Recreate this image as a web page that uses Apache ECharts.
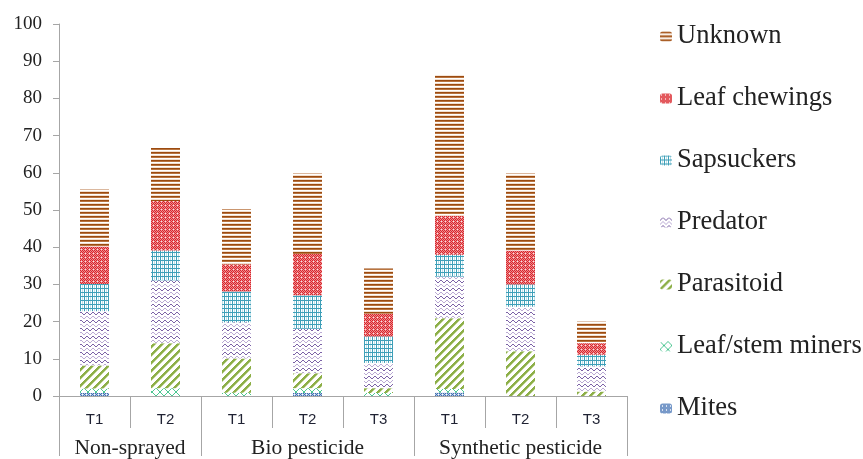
<!DOCTYPE html>
<html>
<head>
<meta charset="utf-8">
<script src="https://cdn.jsdelivr.net/npm/echarts@6/dist/echarts.min.js"></script>
<style>html,body{margin:0;padding:0;background:#fff;}#c{width:863px;height:459px;}</style>
</head>
<body>
<div id="c"></div>
<script>
// ---- data ----
const categories = ['T1','T2','T1','T2','T3','T1','T2','T3'];
const groups = ['Non-sprayed','Bio pesticide','Synthetic pesticide'];
const groupCenters = [1, 3.5, 6.5];
const groupBounds = [0, 2, 5, 8];
const mites      = [0.8, 0,    0,    0.8,  0,    0.9,  0,    0];
const miners     = [1.2, 2.1,  0.9,  1.3,  0.8,  1.0,  0,    0];
const parasitoid = [6.2, 12.1, 9.2,  4.0,  1.3,  19.0, 12.0, 1.2];
const predator   = [14.6,16.9, 9.7,  12.0, 6.8,  11.2, 12.0, 6.8];
const sapsuckers = [7.3, 8.0,  8.3,  9.0,  7.1,  5.9,  6.0,  3.1];
const chewings   = [10.1,13.3, 7.3,  11.1, 6.1,  10.4, 9.1,  3.1];
const unknown    = [15.3,14.3, 14.8, 21.6, 12.2, 37.8, 20.7, 5.8];
const yTicks = [0,10,20,30,40,50,60,70,80,90,100];

// ---- pattern tiles ----
function tile(w, h, fn) {
  const c = document.createElement('canvas');
  c.width = w; c.height = h;
  const ctx = c.getContext('2d');
  ctx.fillStyle = '#ffffff'; ctx.fillRect(0,0,w,h);
  fn(ctx, w, h);
  return {image: c, repeat: 'repeat'};
}
function px(ctx, x, y, col) { ctx.fillStyle = col; ctx.fillRect(x, y, 1, 1); }

const patUnknown = tile(4, 4, (ctx) => {
  ctx.fillStyle = '#9B4B11'; ctx.fillRect(0,0,4,1);
  ctx.fillStyle = '#B9743F'; ctx.fillRect(0,1,4,1);
  ctx.fillStyle = '#F2DFCF'; ctx.fillRect(0,3,4,1);
});
const patChew = tile(4, 4, (ctx) => {
  for (let y=0;y<4;y++) for (let x=0;x<4;x++) {
    px(ctx, x, y, ((x+y)%2===0) ? '#D8262C' : '#EE8C8F');
  }
  px(ctx, 1, 1, '#FBE0E0');
});
const patSap = tile(4, 4, (ctx) => {
  ctx.fillStyle = '#3E9FB8'; ctx.fillRect(0,0,4,1); ctx.fillRect(0,0,1,4);
  ctx.fillStyle = '#BFE1EA'; ctx.fillRect(2,1,1,3);
});
const patPred = tile(6, 8, (ctx) => {
  const ys = [2,1,0,0,1,2];
  for (let x=0;x<6;x++) { px(ctx, x, ys[x], '#7B62A6'); px(ctx, x, ys[x]+4, '#BAAAD3'); }
});
const patPara = tile(8, 8, (ctx) => {
  for (let y=0;y<8;y++) for (let x=0;x<8;x++) {
    const m = (x+y)%8;
    if (m<3) px(ctx, x, y, '#8DAF48');
    else if (m===3) px(ctx, x, y, '#C9DBA4');
  }
});
const patMin = tile(8, 8, (ctx) => {
  for (let i=0;i<8;i++) { px(ctx, i, i, '#4CC691'); px(ctx, i, 7-i, '#4CC691'); }
});
const patMite = tile(4, 4, (ctx) => {
  for (let y=0;y<4;y++) for (let x=0;x<4;x++) {
    px(ctx, x, y, ((x+y)%2===0) ? '#3F6FB0' : '#AFC4E2');
  }
  px(ctx, 2, 2, '#ffffff');
});

const serif = '"Liberation Serif", "Times New Roman", serif';

function s(name, data, pat) {
  return {
    name, type: 'bar', stack: 'a', data, barWidth: 29,
    itemStyle: {color: pat},
    emphasis: {disabled: true}
  };
}

const chart = echarts.init(document.getElementById('c'), null, {renderer: 'canvas'});
chart.setOption({
  animation: false,
  backgroundColor: '#ffffff',
  grid: {left: 59, right: 236, top: 24, bottom: 59, containLabel: false},
  legend: {
    orient: 'vertical', left: 655, top: 18,
    itemWidth: 12, itemHeight: 10, itemGap: 35,
    textStyle: {fontFamily: serif, fontSize: 26.5, color: '#222', lineHeight: 27},
    data: ['Unknown','Leaf chewings','Sapsuckers','Predator','Parasitoid','Leaf/stem miners','Mites'],
    selectedMode: false
  },
  xAxis: [
    {
      type: 'category', data: categories, position: 'bottom',
      axisLine: {lineStyle: {color: '#A6A6A6', width: 1}},
      axisTick: {show: true, interval: 0, length: 32, lineStyle: {color: '#A6A6A6'}},
      axisLabel: {interval: 0, margin: 16, fontFamily: '"Liberation Sans", Arial, sans-serif', fontSize: 15, color: '#1f2233'}
    },
    {
      type: 'value', min: 0, max: 8, position: 'bottom', offset: 0,
      axisLine: {show: false},
      splitLine: {show: false},
      axisTick: {show: true, customValues: groupBounds, length: 60, lineStyle: {color: '#A6A6A6'}},
      axisLabel: {
        customValues: groupCenters, margin: 41,
        fontFamily: serif, fontSize: 21.5, color: '#222',
        formatter: (v) => { const i = groupCenters.indexOf(v); return i >= 0 ? groups[i] : ''; }
      }
    }
  ],
  yAxis: {
    type: 'value', min: yTicks[0], max: yTicks[yTicks.length-1], interval: 10,
    axisLine: {show: true, lineStyle: {color: '#A6A6A6'}},
    axisTick: {show: true, length: 6, lineStyle: {color: '#A6A6A6'}},
    splitLine: {show: false},
    axisLabel: {margin: 17, fontFamily: serif, fontSize: 19, color: '#222'}
  },
  series: [
    s('Mites', mites, patMite),
    s('Leaf/stem miners', miners, patMin),
    s('Parasitoid', parasitoid, patPara),
    s('Predator', predator, patPred),
    s('Sapsuckers', sapsuckers, patSap),
    s('Leaf chewings', chewings, patChew),
    s('Unknown', unknown, patUnknown)
  ]
});
</script>
</body>
</html>
